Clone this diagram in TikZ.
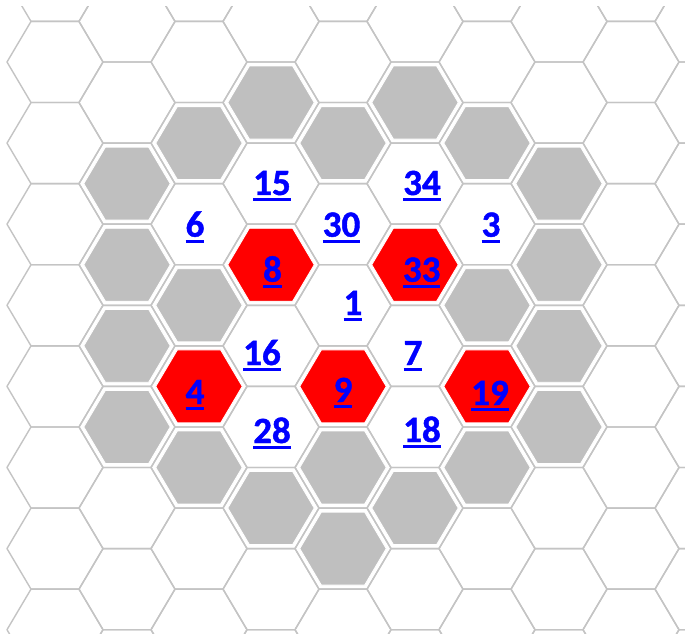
\documentclass[tikz,border=0pt]{standalone}
\usepackage{fontspec}
\setmainfont{Carlito}
\newfontfamily\lblfont{Carlito Bold}[FakeBold=1.2]
\definecolor{gridgray}{RGB}{196,196,196}
\definecolor{cellgray}{RGB}{191,191,191}
\definecolor{cellred}{RGB}{255,0,0}
\definecolor{lblblue}{RGB}{0,0,255}
\newcommand{\hexshape}{(48,0) -- (24,40.55) -- (-24,40.55) -- (-48,0) -- (-24,-40.55) -- (24,-40.55) -- cycle}
\newcommand{\ulnum}[1]{\setbox0\hbox{#1}\rlap{\rule[-6.3pt]{\wd0}{3.4pt}}\box0}
\tikzset{
  gridline/.style={draw=gridgray, line width=1.4pt, line join=round},
  grayhex/.style={fill=cellgray, draw=white, line width=0.8pt},
  redhex/.style={fill=cellred, draw=white, line width=0.8pt},
  lbl/.style={text=lblblue, font=\fontsize{37}{37}\lblfont, inner sep=0pt, anchor=base}
}
\begin{document}
\begin{tikzpicture}[x=1pt,y=-1pt]
\fill[white] (0,0) rectangle (685,636);
\useasboundingbox (0,0) rectangle (685,636);
\begin{scope}
\clip (0,7) rectangle (685,633);
\foreach \c in {0,...,9} {
  \foreach \r in {-1,...,8} {
    \pgfmathsetmacro{\hcx}{55+72*\c}
    \pgfmathsetmacro{\hcy}{62+81.1*\r-40.55*mod(\c,2)}
    \draw[gridline, shift={(\hcx,\hcy)}] \hexshape;
  }
}
\foreach \c/\r in {3/1,5/1,2/1,4/1,6/1,1/2,7/2,1/3,7/3,2/3,6/3,1/4,7/4,1/5,7/5,2/5,4/5,6/5,3/6,5/6,4/6} {
  \pgfmathsetmacro{\hcx}{55+72*\c}
  \pgfmathsetmacro{\hcy}{62+81.1*\r-40.55*mod(\c,2)}
  \path[grayhex, shift={(\hcx,\hcy)}, scale=0.9] \hexshape;
}
\foreach \c/\r in {3/3,5/3,2/4,4/4,6/4} {
  \pgfmathsetmacro{\hcx}{55+72*\c}
  \pgfmathsetmacro{\hcy}{62+81.1*\r-40.55*mod(\c,2)}
  \path[redhex, shift={(\hcx,\hcy)}, scale=0.9] \hexshape;
}
\end{scope}
\node[lbl] (n15) at (272,195) {\ulnum{15}};
\node[lbl] (n34) at (422,195) {\ulnum{34}};
\node[lbl] (n6) at (195,236.7) {\ulnum{6}};
\node[lbl] (n30) at (341.5,236.7) {\ulnum{30}};
\node[lbl] (n3) at (491,236.7) {\ulnum{3}};
\node[lbl] (n8) at (272.5,281.7) {\ulnum{8}};
\node[lbl] (n33) at (421.7,281.7) {\ulnum{33}};
\node[lbl] (n1) at (353,315) {\ulnum{1}};
\node[lbl] (n16) at (262,365) {\ulnum{16}};
\node[lbl] (n7) at (413,365) {\ulnum{7}};
\node[lbl] (n4) at (195,404) {\ulnum{4}};
\node[lbl] (n9) at (343,402) {\ulnum{9}};
\node[lbl] (n19) at (490,405) {\ulnum{19}};
\node[lbl] (n28) at (272,443) {\ulnum{28}};
\node[lbl] (n18) at (422,442) {\ulnum{18}};
\end{tikzpicture}
\end{document}
